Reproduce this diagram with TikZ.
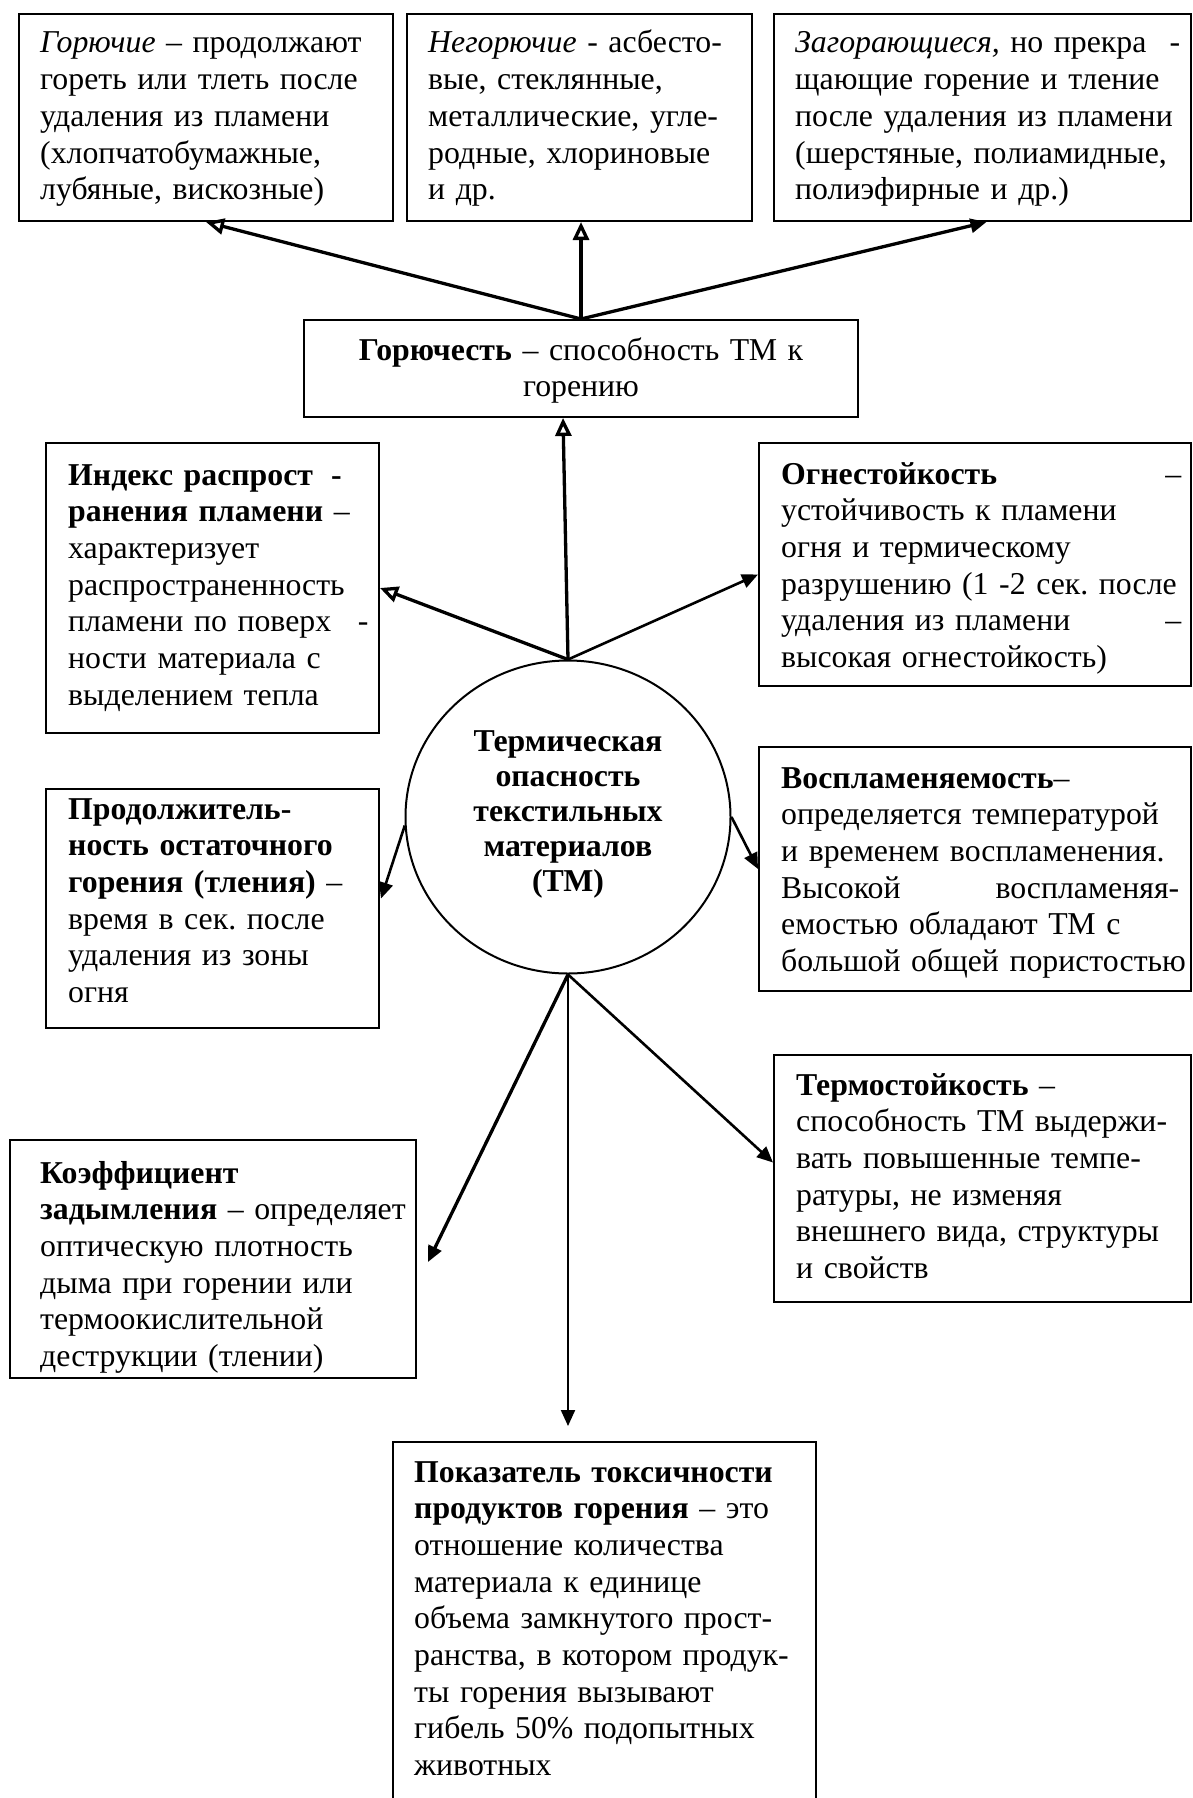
\documentclass[tikz,border=0pt]{standalone}
\usepackage{fontspec}
\setmainfont{Liberation Serif}
\usetikzlibrary{arrows.meta,shapes.geometric,calc}
\frenchspacing
\begin{document}
\begin{tikzpicture}[x=1pt,y=-1pt,
  box/.style={draw, line width=2pt, rectangle, inner sep=0pt},
  txt/.style={inner sep=0pt, anchor=base west, align=left, font=\fontsize{31.8}{36.7}\selectfont\frenchspacing},
  ctxt/.style={inner sep=0pt, anchor=base, align=center, font=\fontsize{31.8}{36.7}\selectfont\frenchspacing},
  headopen/.style={-{Triangle[open,length=18pt,width=16pt]}},
  headfill/.style={-{Triangle[length=16pt,width=14pt]}},
  heavy/.style={line width=3.3pt},
  medium/.style={line width=2.6pt},
  light/.style={line width=2.1pt}]
\path[fill=white, use as bounding box] (0,0) rectangle (1192,1798);
\clip (0,0) rectangle (1192,1798);

% boxes
\node[box, minimum width=374pt, minimum height=207pt] (b1) at (206,117.5) {};
\node[box, minimum width=345pt, minimum height=207pt] (b2) at (579.5,117.5) {};
\node[box, minimum width=417pt, minimum height=207pt] (b3) at (982.5,117.5) {};
\node[box, minimum width=554pt, minimum height=97pt] (g) at (581,368.5) {};
\node[box, minimum width=333pt, minimum height=290pt] (idx) at (212.5,588) {};
\node[box, minimum width=333pt, minimum height=239pt] (prod) at (212.5,908.5) {};
\node[box, minimum width=432pt, minimum height=243pt] (ogn) at (975,564.5) {};
\node[box, minimum width=432pt, minimum height=244pt] (vos) at (975,869) {};
\node[box, minimum width=406pt, minimum height=238pt] (koef) at (213,1259) {};
\node[box, minimum width=417pt, minimum height=247pt] (term) at (982.5,1178.5) {};
\node[box, minimum width=423pt, minimum height=376pt] (pok) at (604.5,1630) {};
\node[draw, ellipse, line width=2pt, minimum width=325pt, minimum height=313pt, inner sep=0pt] (c) at (568,817) {};

% texts
\node[txt, text width=345pt] (b1t) at (40,53) {\textit{Горючие} – продолжают\\гореть или тлеть после\\удаления из пламени\\(хлопчатобумажные,\\лубяные, вискозные)};
\node[txt, text width=310pt] (b2t) at (428,53) {\textit{Негорючие} - асбесто-\\вые, стеклянные,\\металлические, угле-\\родные, хлориновые\\и др.};
\node[txt, text width=400pt] (b3t) at (795,53) {\makebox[385pt][s]{\textit{Загорающиеся,} но прекра\hfill -}\\щающие горение и тление\\после удаления из пламени\\(шерстяные, полиамидные,\\полиэфирные и др.)};
\node[ctxt, text width=540pt] (gt) at (581,360) {\textbf{Горючесть} – способность ТМ к\\горению};
\node[txt, text width=305pt] (idxt) at (68,485) {\textbf{Индекс распрост\hspace{18pt}-}\\\textbf{ранения пламени} –\\характеризует\\распространенность\\пламени по поверх\hspace{16pt} -\\ности материала с\\выделением тепла};
\node[txt, text width=400pt] (prodt) at (68,819) {\textbf{Продолжитель-}\\\textbf{ность остаточного}\\\textbf{горения (тления)} –\\время в сек. после\\удаления из зоны\\огня};
\node[txt, text width=440pt] (ognt) at (781,484) {\makebox[400pt][s]{\textbf{Огнестойкость}\hfill –}\\устойчивость к пламени\\огня и термическому\\разрушению (1 -2 сек. после\\\makebox[400pt][s]{удаления из пламени\hfill –}\\высокая огнестойкость)};
\node[txt, text width=440pt] (vost) at (781,788) {\textbf{Воспламеняемость}–\\определяется температурой\\и временем воспламенения.\\\makebox[398pt][s]{Высокой\hfill воспламеняя-}\\емостью обладают ТМ с\\большой общей пористостью};
\node[txt, text width=400pt] (koeft) at (40,1183) {\textbf{Коэффициент}\\\textbf{задымления} – определяет\\оптическую плотность\\дыма при горении или\\термоокислительной\\деструкции (тлении)};
\node[txt, text width=400pt] (termt) at (796,1095) {\textbf{Термостойкость} –\\способность ТМ выдержи-\\вать повышенные темпе-\\ратуры, не изменяя\\внешнего вида, структуры\\и свойств};
\node[txt, text width=400pt] (pokt) at (414,1482) {\textbf{Показатель токсичности}\\\textbf{продуктов горения} – это\\отношение количества\\материала к единице\\объема замкнутого прост-\\ранства, в котором продук-\\ты горения вызывают\\гибель 50\% подопытных\\животных};
\node[ctxt, text width=260pt, font=\fontsize{31.8}{35}\selectfont\bfseries] (ct) at (568,751) {Термическая\\опасность\\текстильных\\материалов\\(ТМ)};

% connectors
\draw[heavy, headopen] (g.north) -- (b1.south);
\draw[heavy, headopen] (g.north) -- (g.north |- b2.south);
\draw[heavy, headfill] (g.north) -- ($(b3.south)+(4,0)$);
\draw[heavy, headopen] (c.north) -- ($(g.south)+(-18,0)$);
\draw[heavy, headopen] (c.north) -- (idx.east);
\draw[medium, headfill] (c.north) -- ($(ogn.west)+(0,10)$);
\draw[medium, headfill] (c.183) -- ($(prod.east)+(1,-10)$);
\draw[medium, headfill] (c.east) -- (vos.west);
\draw[heavy, headfill] (c.south) -- ($(koef.east)+(11,3)$);
\draw[light, headfill] (c.south) -- ($(c.south |- pok.north)+(0,-15)$);
\draw[medium, headfill] (c.south) -- ($(term.west)+(0,-16)$);
\end{tikzpicture}
\end{document}
